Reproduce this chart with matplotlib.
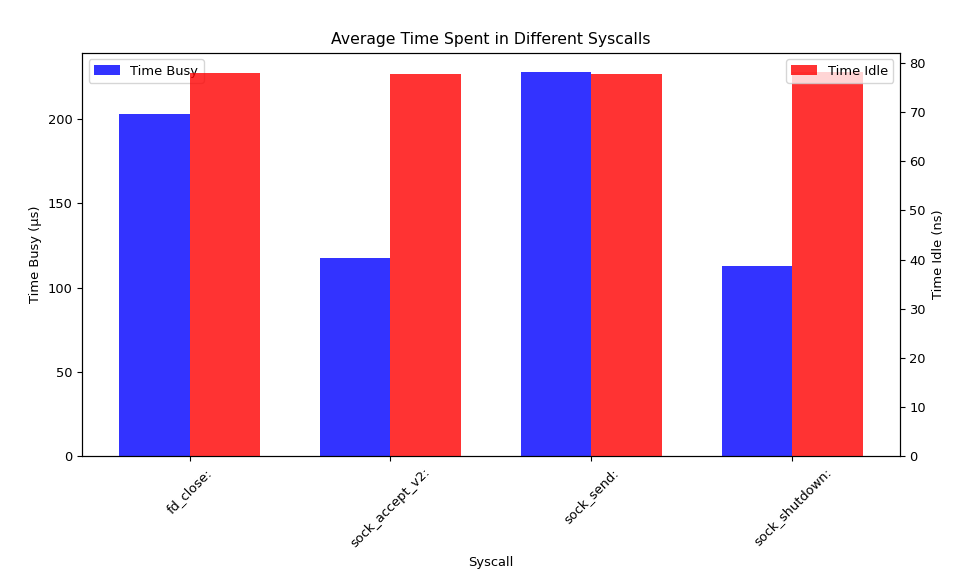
import matplotlib
matplotlib.use("Agg")
import matplotlib.pyplot as plt
import numpy as np

# syscall names and average timings
syscalls = ["fd_close:", "sock_accept_v2:", "sock_send:", "sock_shutdown:"]
time_busy = [203.1, 117.8, 228.1, 112.9]   # microseconds
time_idle = [78.0, 77.8, 77.8, 78.2]       # nanoseconds

plt.rcParams["font.size"] = 9.4

bar_width = 0.35
x = np.arange(len(syscalls))

fig, ax1 = plt.subplots(figsize=(9.71, 5.87), dpi=100)
fig.subplots_adjust(left=0.0845, right=0.9266, top=0.910, bottom=0.2232)

ax1.bar(x - bar_width / 2, time_busy, bar_width, color="blue", alpha=0.8, label="Time Busy")
ax1.set_xlabel("Syscall")
ax1.set_ylabel("Time Busy (µs)")
ax1.set_xticks(x)
ax1.set_xticklabels(syscalls, rotation=45)
ax1.legend(loc="upper left")

ax2 = ax1.twinx()
ax2.bar(x + bar_width / 2, time_idle, bar_width, color="red", alpha=0.8, label="Time Idle")
ax2.set_ylabel("Time Idle (ns)")
ax2.legend(loc="upper right")

plt.title("Average Time Spent in Different Syscalls")
plt.savefig("out.png")
